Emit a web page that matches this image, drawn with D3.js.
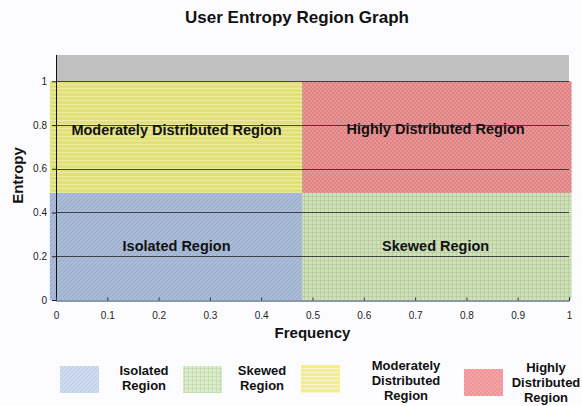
<!DOCTYPE html>
<html><head><meta charset="utf-8">
<script src="https://cdn.jsdelivr.net/npm/d3@7"></script>
<style>body{margin:0;background:#fcfcfe;}svg{display:block;font-family:Arial,"Liberation Sans",sans-serif;}</style>
</head><body>
<script>
const regionNames = ["Isolated Region","Skewed Region","Moderately Distributed Region","Highly Distributed Region"];
const regionX0 = [-0.012, 0.48, -0.012, 0.48];
const regionX1 = [0.48, 1.005, 0.48, 1.005];
const regionY0 = [0, 0, 0.49, 0.49];
const regionY1 = [0.49, 0.49, 1.0, 1.0];
const regionLabelX = [0.235, 0.74, 0.235, 0.74];
const regionLabelY = [0.24, 0.24, 0.77, 0.775];
const legendLines = [["Isolated","Region"],["Skewed","Region"],["Moderately","Distributed","Region"],["Highly","Distributed","Region"]];
const xTicks = [0,0.1,0.2,0.3,0.4,0.5,0.6,0.7,0.8,0.9,1];
const yTicks = [0,0.2,0.4,0.6,0.8,1];
const yMax = 1.12;

const W = 582, H = 406;
const svg = d3.select("body").append("svg").attr("width", W).attr("height", H);
const defs = svg.append("defs");

function mkPattern(id, base, draw){
  const p = defs.append("pattern").attr("id", id).attr("patternUnits","userSpaceOnUse")
    .attr("width",4).attr("height",4);
  p.append("rect").attr("width",4).attr("height",4).attr("fill",base);
  draw(p);
}
// plot patterns
mkPattern("pBlue","#aabcd8",p=>{p.append("path").attr("d","M-1,1 L1,-1 M0,4 L4,0 M3,5 L5,3").attr("stroke","#94a9c8").attr("stroke-width",1);});
mkPattern("pGreen","#cfe0bb",p=>{p.append("path").attr("d","M0,0.5 H4 M0.5,0 V4").attr("stroke","#bad0a2").attr("stroke-width",1);});
mkPattern("pYellow","#e1e178",p=>{p.append("path").attr("d","M0,0.5 H4").attr("stroke","#ecec9e").attr("stroke-width",1);});
mkPattern("pRed","#e99597",p=>{p.append("rect").attr("width",2).attr("height",2).attr("fill","#e08284");p.append("rect").attr("x",2).attr("y",2).attr("width",2).attr("height",2).attr("fill","#e08284");});
// legend patterns
mkPattern("lBlue","#cfdcf0",p=>{p.append("path").attr("d","M-1,1 L1,-1 M0,4 L4,0 M3,5 L5,3").attr("stroke","#b8cae6").attr("stroke-width",1);});
mkPattern("lGreen","#ddecce",p=>{p.append("path").attr("d","M0,0.5 H4 M0.5,0 V4").attr("stroke","#c6dcb2").attr("stroke-width",1);});
mkPattern("lYellow","#f2ee90",p=>{p.append("path").attr("d","M0,0.5 H4").attr("stroke","#f8f6c2").attr("stroke-width",1);});
mkPattern("lRed","#f3a5a8",p=>{p.append("rect").attr("width",2).attr("height",2).attr("fill","#ee9599");p.append("rect").attr("x",2).attr("y",2).attr("width",2).attr("height",2).attr("fill","#ee9599");});
const plotFills = ["url(#pBlue)","url(#pGreen)","url(#pYellow)","url(#pRed)"];
const legFills = ["url(#lBlue)","url(#lGreen)","url(#lYellow)","url(#lRed)"];

const m = {left:56, right:13, top:55, bottom:106};
const x = d3.scaleLinear().domain([0,1]).range([m.left, W-m.right]);
const y = d3.scaleLinear().domain([0,yMax]).range([H-m.bottom, m.top]);

// gray background
svg.append("rect").attr("x",x(0)).attr("y",y(yMax)).attr("width",x(1)-x(0)).attr("height",y(0)-y(yMax)).attr("fill","#c0c0c0");

// regions
svg.selectAll("rect.region").data(regionNames).join("rect").attr("class","region")
  .attr("x",(d,i)=>x(regionX0[i])).attr("width",(d,i)=>x(regionX1[i])-x(regionX0[i]))
  .attr("y",(d,i)=>y(regionY1[i])).attr("height",(d,i)=>y(regionY0[i])-y(regionY1[i]))
  .attr("fill",(d,i)=>plotFills[i]);

// gridlines
svg.append("g").selectAll("line").data(yTicks.filter(v=>v>0)).join("line")
  .attr("x1",x(0)).attr("x2",x(1)).attr("y1",d=>Math.round(y(d))+0.5).attr("y2",d=>Math.round(y(d))+0.5)
  .attr("stroke","#2a2a2a").attr("stroke-opacity",0.85).attr("stroke-width",1);

// axes
const yAxis = d3.axisLeft(y).tickValues(yTicks).tickSize(4).tickPadding(5).tickFormat(d3.format("~g"));
const gy = svg.append("g").attr("transform",`translate(${x(0)},0)`).call(yAxis);
gy.select(".domain").remove();
gy.append("line").attr("x1",0.5).attr("x2",0.5).attr("y1",y(yMax)).attr("y2",y(0)).attr("stroke","#111");
gy.selectAll(".tick line").attr("stroke","#222");
gy.selectAll("text").attr("font-size",10).attr("fill","#222");

const xAxis = d3.axisBottom(x).tickValues(xTicks).tickSize(-3).tickPadding(11).tickFormat(d3.format("~g"));
const gx = svg.append("g").attr("transform",`translate(0,${Math.round(y(0))+0.5})`).call(xAxis);
gx.select(".domain").attr("stroke","#1c3550");
gx.selectAll(".tick line").attr("stroke","#1c3550");
gx.selectAll("text").attr("font-size",10).attr("fill","#222");

// region labels
svg.selectAll("text.rl").data(regionNames).join("text").attr("class","rl")
  .attr("x",(d,i)=>x(regionLabelX[i])).attr("y",(d,i)=>y(regionLabelY[i]))
  .attr("text-anchor","middle").attr("dominant-baseline","middle")
  .attr("font-size",14.5).attr("font-weight","bold").attr("fill","#111").text(d=>d);

// titles
svg.append("text").attr("x",297).attr("y",23).attr("text-anchor","middle").attr("font-size",17).attr("font-weight","bold").attr("fill","#111").text("User Entropy Region Graph");
svg.append("text").attr("x",(x(0)+x(1))/2).attr("y",338).attr("text-anchor","middle").attr("font-size",15).attr("font-weight","bold").attr("fill","#111").text("Frequency");
svg.append("text").attr("transform",`translate(23,${(y(0)+y(yMax))/2 - 2}) rotate(-90)`).attr("text-anchor","middle").attr("font-size",15).attr("font-weight","bold").attr("fill","#111").text("Entropy");

// legend
const legSwX = [60, 183, 301, 464];
const legSwY = [366, 366, 365, 369];
const legSwH = [27, 27, 28, 27];
const legTxX = [144, 262, 406, 546];
const legTxY = [375, 375, 370, 372];
const lg = svg.append("g");
regionNames.forEach((n,i)=>{
  lg.append("rect").attr("x",legSwX[i]).attr("y",legSwY[i]).attr("width",39).attr("height",legSwH[i]).attr("fill",legFills[i]);
  const t = lg.append("text").attr("x",legTxX[i]).attr("y",legTxY[i]).attr("text-anchor","middle").attr("font-size",13).attr("font-weight","bold").attr("fill","#111");
  legendLines[i].forEach((l,j)=>t.append("tspan").attr("x",legTxX[i]).attr("dy",j===0?0:14.8).text(l));
});
</script>
</body></html>
